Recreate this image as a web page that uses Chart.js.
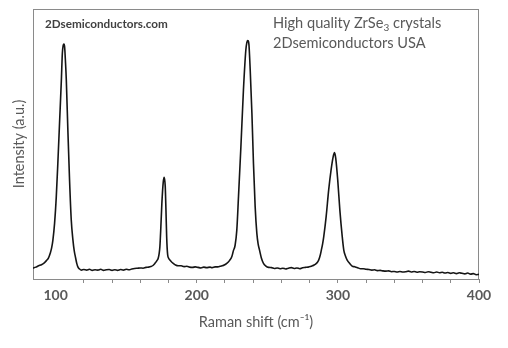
<!DOCTYPE html>
<html>
<head>
<meta charset="utf-8">
<script src="https://cdn.jsdelivr.net/npm/chart.js@4.4.1/dist/chart.umd.min.js"></script>
<style>
html,body{margin:0;padding:0;background:#fff;}
canvas{display:block;}
</style>
</head>
<body>
<canvas id="c" width="508" height="348"></canvas>
<script>
// Raman shift (cm-1)
const shifts = [
 84,86,88,90,92,93.5,95,96.2,97.2,98.1,99.3,100.5,101.6,102.8,104.1,104.8,105.4,105.9,106.4,107.0,107.6,108.7,109.9,111.1,112.3,113.2,114.0,115.0,115.8,117,118.3,
 120,122,124,126,128,130,132,134,136,138,140,142,144,146,148,150,152,154,156,158,160,162,164,166,167.5,169,170.4,171.8,172.7,173.4,173.9,174.6,175.3,176.3,177.0,177.7,178.2,178.7,179.4,180.2,181.0,182.2,183.4,185,186.9,189,191,193,195,197,199,201,203,205,207,209.5,211,213,215,216.6,218,219.5,221.3,223.2,224.9,226,227.2,228.4,229.6,231.3,233.1,234.8,235.5,236.0,236.5,237.0,237.9,239.1,240.2,241.4,242.6,243.5,244.5,245.8,247.3,249,250.9,253,255,257,259,261,263,265,267,269,271,273,275,277,279,280.5,282,283.2,284.4,285.5,286.4,287.5,288.3,289.2,290.0,291.7,293.5,295.2,296.7,297.6,298.5,299.9,301.4,303.1,304.2,305.3,306.6,308.3,310.1,312,314,316.1,318,320,322,324,326,328,330,332,334,336,338,340,342,344,346,348,350,352,354,356,358,360,362,364,366,368,370,372,374,376,378,380,382,384,386,388,390,392,394,396,398,400
];
// Intensity (a.u.)
const intensity = [
 4.0,4.4,4.9,5.3,6.0,6.8,7.8,9.5,11.5,14.4,20.7,30.5,42.9,57.7,73.7,83.6,86.5,87.0,86.0,80.5,73.7,55.2,36.7,21.9,14.4,10.5,8.3,5.8,4.5,3.7,3.3,
 3.5,3.3,3.6,3.2,3.4,3.3,3.6,3.2,3.4,3.5,3.2,3.4,3.2,3.5,3.3,3.6,3.4,3.7,3.9,4.0,4.1,4.0,4.3,4.4,4.6,5.0,5.8,6.8,7.7,9.5,12.0,19.4,28.0,36.0,37.7,34.2,25.6,15.7,9.0,7.6,7.0,6.3,5.8,5.2,4.9,4.9,4.6,4.7,4.4,4.3,4.5,4.3,4.1,4.4,4.2,4.4,4.2,4.5,4.5,4.7,4.9,5.2,5.8,6.8,8.3,10.5,12.5,18.1,30.5,49.0,70.0,84.8,87.5,88.3,88.2,86.8,77.4,61.4,42.9,26.8,16.9,13.0,10.7,7.8,5.8,4.8,4.3,4.2,3.9,4.1,3.8,4.0,3.7,4.0,4.2,3.9,4.1,3.8,4.2,4.3,4.4,4.6,4.9,5.2,5.6,6.2,7.0,8.8,10.7,13.0,15.7,23.1,33.0,40.4,45.3,46.8,44.7,36.7,25.6,15.7,10.7,8.6,7.0,5.8,4.8,4.5,4.2,3.8,3.8,3.6,3.5,3.3,3.4,3.1,3.2,3.0,2.9,3.0,2.7,2.8,2.6,2.8,2.6,2.7,2.9,2.6,2.8,2.5,2.7,2.6,2.4,2.7,2.5,2.3,2.6,2.3,2.5,2.2,2.4,2.1,2.3,2.0,2.3,2.1,1.9,2.2,1.8,2.0,1.6,1.7
];
const xTickValues = [100,120,140,160,180,200,220,240,260,280,300,320,340,360,380,400];
const xLabelValues = [100,200,300,400];

const points = shifts.map((s,i)=>({x:s,y:intensity[i]}));
const GRAY = '#8a8a8a';
const TEXT = '#595959';
const FONT = "Lato, 'Open Sans', 'DejaVu Sans', sans-serif";

const framePlugin = {
  id:'frame',
  beforeDatasetsDraw(chart){
    const a = chart.chartArea, ctx = chart.ctx;
    ctx.save();
    ctx.strokeStyle = GRAY; ctx.lineWidth = 1;
    ctx.strokeRect(Math.round(a.left)+0.5, Math.round(a.top)+0.5, Math.round(a.right-a.left)-1, Math.round(a.bottom-a.top));
    ctx.restore();
  },
  afterDraw(chart){
    const ctx = chart.ctx;
    ctx.save();
    ctx.textBaseline = 'alphabetic';
    ctx.fillStyle = '#404040';
    ctx.font = "bold 11.7px " + FONT;
    ctx.fillText('2Dsemiconductors.com', 45, 28);
    ctx.fillStyle = TEXT;
    ctx.font = "14.6px " + FONT;
    let x = 273;
    const p1 = 'High quality ZrSe';
    ctx.fillText(p1, x, 28); x += ctx.measureText(p1).width;
    ctx.font = "10px " + FONT;
    ctx.fillText('3', x, 31); x += ctx.measureText('3').width;
    ctx.font = "14.6px " + FONT;
    ctx.fillText(' crystals', x, 28);
    ctx.fillText('2Dsemiconductors USA', 273, 48);
    ctx.restore();
  }
};

new Chart(document.getElementById('c'), {
  type:'line',
  data:{datasets:[{
    data:points, borderColor:'#151515', borderWidth:1.6, pointRadius:0,
    fill:false, cubicInterpolationMode:'monotone'
  }]},
  options:{
    responsive:false, animation:false, events:[],
    layout:{padding:{left:0,top:9,right:29,bottom:0}},
    plugins:{legend:{display:false},tooltip:{enabled:false}},
    scales:{
      x:{
        type:'linear', min:84, max:400,
        afterBuildTicks(s){ s.ticks = xTickValues.map(v=>({value:v})); },
        afterFit(s){ s.height = 69; },
        ticks:{
          autoSkip:false, maxRotation:0, padding:4, color:TEXT,
          font:{family:FONT, size:14, weight:'bold'},
          callback:(v)=> xLabelValues.includes(v) ? String(v) : ''
        },
        grid:{drawOnChartArea:false, drawTicks:true, tickLength:4,
          color:(c)=> (c.tick && c.tick.value===100) ? 'rgba(0,0,0,0)' : GRAY},
        border:{display:false},
        title:{display:true, text:'Raman shift (cm⁻¹)', color:TEXT,
          font:{family:FONT, size:14.5}, padding:{top:0,bottom:17}}
      },
      y:{
        min:0, max:100,
        afterFit(s){ s.width = 33; },
        ticks:{display:false},
        grid:{display:false},
        border:{display:false},
        title:{display:true, text:'Intensity (a.u.)', color:TEXT,
          font:{family:FONT, size:14.5}, padding:{top:11,bottom:0}}
      }
    }
  },
  plugins:[framePlugin]
});
</script>
</body>
</html>
